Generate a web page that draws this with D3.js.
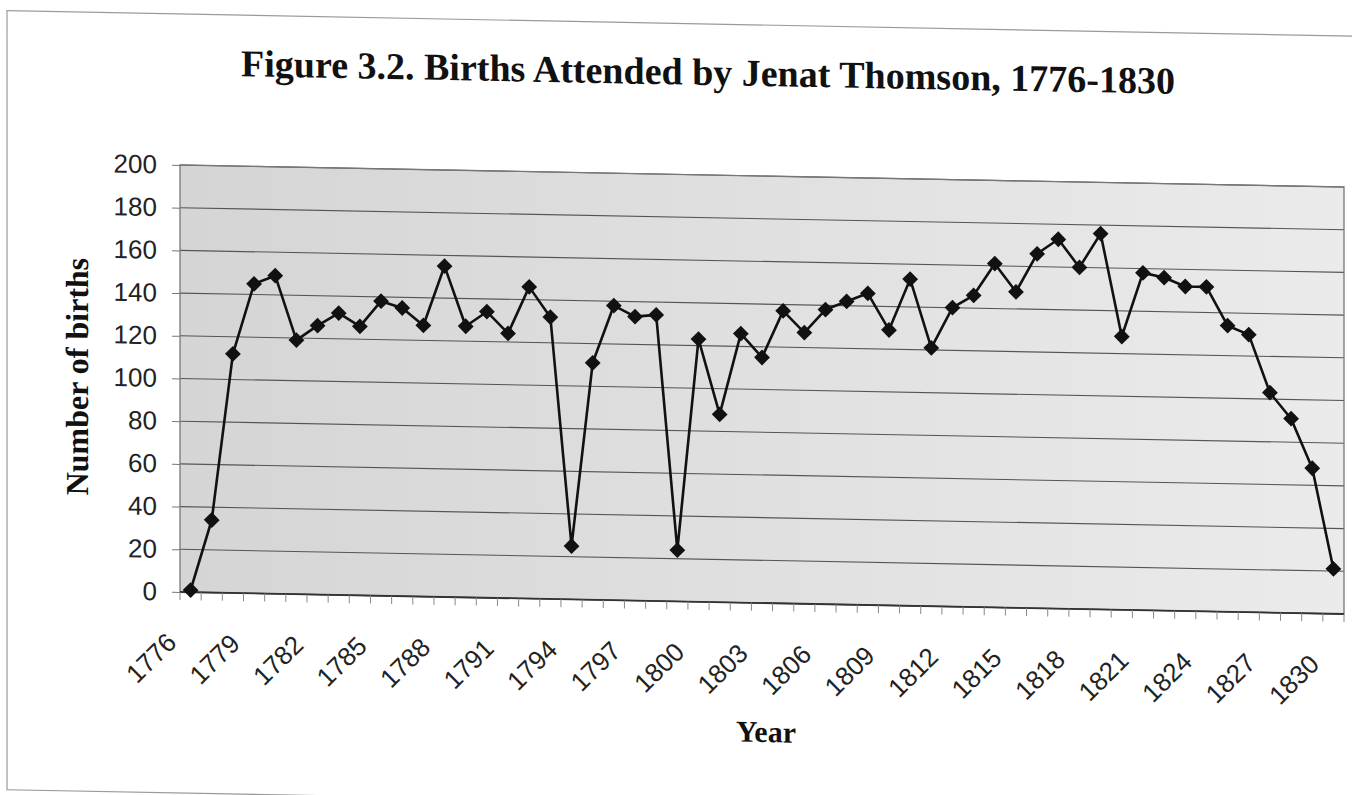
<!DOCTYPE html>
<html>
<head>
<meta charset="utf-8">
<script src="https://cdn.jsdelivr.net/npm/d3@7"></script>
<style>
body { margin: 0; background: #fff; }
svg { display: block; }
</style>
</head>
<body>
<div id="chart"></div>
<script>
const years = [1776,1777,1778,1779,1780,1781,1782,1783,1784,1785,
  1786,1787,1788,1789,1790,1791,1792,1793,1794,1795,
  1796,1797,1798,1799,1800,1801,1802,1803,1804,1805,
  1806,1807,1808,1809,1810,1811,1812,1813,1814,1815,
  1816,1817,1818,1819,1820,1821,1822,1823,1824,1825,
  1826,1827,1828,1829,1830];
const births = [1,34,112,145,149,119,126,132,126,138,
  135,127,155,127,134,124,146,132,25,111,
  138,133,134,24,123,88,126,115,137,127,
  138,142,146,129,153,121,140,146,161,148,
  166,173,160,176,128,158,156,152,152,134,
  130,103,91,68,21];
const yTicks = [0,20,40,60,80,100,120,140,160,180,200];
const xLabels = [1776,1779,1782,1785,1788,1791,1794,1797,1800,1803,
  1806,1809,1812,1815,1818,1821,1824,1827,1830];

const W = 1352, H = 795;
const m = {left: 180, right: 1344, top: 165, bottom: 592};
const skew = 0.0189;   // the scanned page sits a little tilted

let svg = d3.select('#chart').append('svg').attr('width', W).attr('height', H);

let grad = svg.append('defs').append('linearGradient').attr('id', 'bg');
grad.append('stop').attr('offset', '0%').attr('stop-color', '#d5d5d5');
grad.append('stop').attr('offset', '100%').attr('stop-color', '#ebebeb');

let g = svg.append('g')
  .attr('transform', `matrix(1,${skew},0,1,0,${-skew * m.left})`);

// outer chart frame
g.append('rect')
  .attr('x', 7).attr('y', 14).attr('width', 1420).attr('height', 779)
  .attr('fill', 'none').attr('stroke', '#9a9a9a').attr('stroke-width', 1.2);

let x = d3.scaleBand().domain(years).range([m.left, m.right]);
let y = d3.scaleLinear().domain([0, 200]).range([m.bottom, m.top]);
const cx = d => x(d) + x.bandwidth() / 2;

// plot area
g.append('rect')
  .attr('x', m.left).attr('y', m.top)
  .attr('width', m.right - m.left).attr('height', m.bottom - m.top)
  .attr('fill', 'url(#bg)');

g.append('g').selectAll('line').data(yTicks).enter().append('line')
  .attr('x1', m.left).attr('x2', m.right)
  .attr('y1', d => y(d)).attr('y2', d => y(d))
  .attr('stroke', '#555').attr('stroke-width', 1.1);

g.append('rect')
  .attr('x', m.left).attr('y', m.top)
  .attr('width', m.right - m.left).attr('height', m.bottom - m.top)
  .attr('fill', 'none').attr('stroke', '#777').attr('stroke-width', 1.3);
g.append('line')
  .attr('x1', m.left).attr('x2', m.right).attr('y1', m.bottom).attr('y2', m.bottom)
  .attr('stroke', '#333').attr('stroke-width', 1.8);

// y axis
let ya = g.append('g').attr('transform', `translate(${m.left},0)`)
  .call(d3.axisLeft(y).tickValues(yTicks).tickSize(8).tickPadding(15));
ya.select('.domain').remove();
ya.selectAll('line').attr('stroke', '#777');
ya.selectAll('text')
  .attr('font-family', 'Liberation Sans, Arial, sans-serif')
  .attr('font-size', 26).attr('fill', '#222');

// x ticks sit on the category boundaries
g.append('g').selectAll('line')
  .data(years.map(d => x(d)).concat([m.right])).enter().append('line')
  .attr('x1', d => d).attr('x2', d => d)
  .attr('y1', m.bottom).attr('y2', m.bottom + 8)
  .attr('stroke', '#888');

g.append('g').selectAll('text').data(xLabels).enter().append('text')
  .attr('transform', d => `translate(${cx(d) - 19},638) rotate(-45)`)
  .attr('text-anchor', 'end').attr('dominant-baseline', 'central')
  .attr('font-family', 'Liberation Sans, Arial, sans-serif')
  .attr('font-size', 26).attr('fill', '#222')
  .text(d => d);

// series
g.append('path').datum(births)
  .attr('d', d3.line().x((d, i) => cx(years[i])).y(d => y(d)))
  .attr('fill', 'none').attr('stroke', '#111').attr('stroke-width', 2.6)
  .attr('stroke-linejoin', 'round');

g.append('g').selectAll('path').data(births).enter().append('path')
  .attr('d', d3.symbol(d3.symbolSquare, 125))
  .attr('transform', (d, i) => `translate(${cx(years[i])},${y(d)}) rotate(45)`)
  .attr('fill', '#111');

// titles
g.append('text')
  .attr('x', 708).attr('y', 75).attr('text-anchor', 'middle')
  .attr('font-family', 'Liberation Serif, Times New Roman, serif')
  .attr('font-weight', 'bold').attr('font-size', 38).attr('fill', '#111')
  .text('Figure 3.2. Births Attended by Jenat Thomson, 1776-1830');

g.append('text')
  .attr('transform', `translate(88,${(m.top + m.bottom) / 2}) rotate(-90)`)
  .attr('text-anchor', 'middle')
  .attr('font-family', 'Liberation Serif, Times New Roman, serif')
  .attr('font-weight', 'bold').attr('font-size', 32).attr('fill', '#111')
  .text('Number of births');

g.append('text')
  .attr('x', 766).attr('y', 731).attr('text-anchor', 'middle')
  .attr('font-family', 'Liberation Serif, Times New Roman, serif')
  .attr('font-weight', 'bold').attr('font-size', 30).attr('fill', '#111')
  .text('Year');
</script>
</body>
</html>
